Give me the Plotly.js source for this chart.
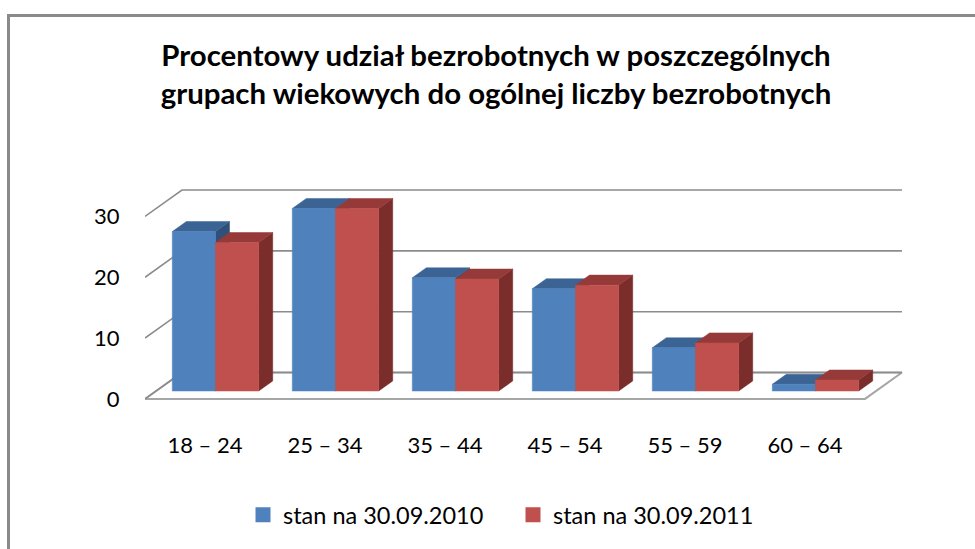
<!DOCTYPE html>
<html>
<head>
<meta charset="utf-8">
<script src="https://cdn.plot.ly/plotly-3.0.1.min.js"></script>
<style>
  html, body { margin:0; padding:0; background:#fff; overflow:hidden; width:975px; height:549px; }
  #chart { width:975px; height:549px; position:absolute; left:0; top:0; }
</style>
</head>
<body>
<div id="chart"></div>
<script>
// ---- data ----
const categories = ["18 – 24", "25 – 34", "35 – 44", "45 – 54", "55 – 59", "60 – 64"];
const series2010 = [26.2, 30.0, 18.6, 16.8, 7.1, 1.1];
const series2011 = [24.4, 30.0, 18.4, 17.4, 7.9, 1.8];
const seriesNames = ["stan na 30.09.2010", "stan na 30.09.2011"];
const yTicks = [0, 10, 20, 30];

// ---- oblique projection helpers (depth d in 0..1) ----
const DX = 0.308, DY = 4.34;
function P(x, v, d) { return [x + d * DX, v + d * DY]; }

const barStart = 0.135, barW = 0.36;
const dFront = 0.30, dBack = 0.68;

function polyTrace(polys, color) {
  const xs = [], ys = [];
  polys.forEach(p => { p.forEach(pt => { xs.push(pt[0]); ys.push(pt[1]); }); xs.push(null); ys.push(null); });
  return { type: 'scatter', mode: 'lines', x: xs, y: ys, fill: 'toself', fillcolor: color,
           line: { width: 0.5, color: color }, hoverinfo: 'skip', showlegend: false };
}

function faces(values, sIdx) {
  const fronts = [], tops = [], sides = [];
  values.forEach((v, i) => {
    const x0 = i + barStart + sIdx * barW, x1 = x0 + barW;
    fronts.push([P(x0, 0, dFront), P(x1, 0, dFront), P(x1, v, dFront), P(x0, v, dFront), P(x0, 0, dFront)]);
    tops.push([P(x0, v, dFront), P(x1, v, dFront), P(x1, v, dBack), P(x0, v, dBack), P(x0, v, dFront)]);
    sides.push([P(x1, 0, dFront), P(x1, 0, dBack), P(x1, v, dBack), P(x1, v, dFront), P(x1, 0, dFront)]);
  });
  return { fronts, tops, sides };
}

const traces = [];
const n = categories.length;

// floor
const floor = [P(0, 0, 0), P(n, 0, 0), P(n, 0, 1), P(0, 0, 1), P(0, 0, 0)];
traces.push({ type: 'scatter', mode: 'lines', x: floor.map(p => p[0]), y: floor.map(p => p[1]),
  fill: 'toself', fillcolor: '#ffffff', line: { color: '#a6a6a6', width: 2 }, hoverinfo: 'skip', showlegend: false });

// gridlines: back wall + left wall
const gx = [], gy = [];
yTicks.forEach(t => {
  const a = P(0, t, 0), b = P(0, t, 1), c = P(n, t, 1);
  gx.push(a[0], b[0], c[0], null); gy.push(a[1], b[1], c[1], null);
});
traces.push({ type: 'scatter', mode: 'lines', x: gx, y: gy, line: { color: '#8c8c8c', width: 1.6 },
  hoverinfo: 'skip', showlegend: false });

const blue = { front: '#4F81BD', top: '#3B6495', side: '#2F5079' };
const red  = { front: '#C0504D', top: '#953A38', side: '#7A2D2B' };
const f0 = faces(series2010, 0), f1 = faces(series2011, 1);
traces.push(polyTrace(f0.sides, blue.side));
traces.push(polyTrace(f0.tops, blue.top));
traces.push(polyTrace(f0.fronts, blue.front));
traces.push(polyTrace(f1.sides, red.side));
traces.push(polyTrace(f1.tops, red.top));
traces.push(polyTrace(f1.fronts, red.front));

// legend entries
traces.push({ type: 'bar', x: [null], y: [null], name: seriesNames[0],
  marker: { color: blue.front, line: { color: blue.front, width: 3 } }, showlegend: true });
traces.push({ type: 'bar', x: [null], y: [null], name: seriesNames[1],
  marker: { color: red.front, line: { color: red.front, width: 3 } }, showlegend: true });

// plot-area geometry (pixels) for the chart-area frame
const L = 145, T = 185.5, W = 975 - 145 - 68, H = 549 - 185.5 - 143.9;
const px2x = px => (px - L) / W, py2y = py => (T + H - py) / H;

const FONT = 'Lato, "Open Sans", sans-serif';
const layout = {
  width: 975, height: 549,
  paper_bgcolor: '#ffffff', plot_bgcolor: 'rgba(0,0,0,0)',
  margin: { l: 145, r: 68, t: 185.5, b: 143.9, pad: 0 },
  font: { family: FONT, color: '#000000', size: 22 },
  title: {
    text: 'Procentowy udział bezrobotnych w poszczególnych<br>grupach wiekowych do ogólnej liczby bezrobotnych',
    font: { family: FONT, size: 29.4, color: '#000000', weight: 'bold' },
    x: 496 / 975, xanchor: 'center', xref: 'container',
    y: 1 - 66 / 549, yanchor: 'middle', yref: 'container'
  },
  xaxis: {
    range: [0, 6.35], showgrid: false, zeroline: false, showline: false,
    tickvals: categories.map((c, i) => i + 0.5), ticktext: categories,
    ticks: 'outside', ticklen: 21, tickcolor: 'rgba(0,0,0,0)',
    tickfont: { family: FONT, size: 22, color: '#000' }, fixedrange: true
  },
  yaxis: {
    range: [-1, 35], showgrid: false, zeroline: false, showline: false,
    tickvals: yTicks, ticktext: yTicks.map(String),
    ticks: 'outside', ticklen: 20, tickcolor: 'rgba(0,0,0,0)',
    tickfont: { family: FONT, size: 22, color: '#000' }, fixedrange: true
  },
  shapes: [{
    type: 'path', xref: 'paper', yref: 'paper', layer: 'above',
    path: `M ${px2x(8.5)},${py2y(560)} L ${px2x(8.5)},${py2y(14.5)} L ${px2x(990)},${py2y(14.5)}`,
    line: { color: '#8a8a8a', width: 3 }
  }],
  showlegend: true,
  legend: {
    orientation: 'h', x: 243 / 975, xanchor: 'left', xref: 'container',
    y: 1 - 515 / 549, yref: 'container', yanchor: 'middle',
    entrywidth: 225, entrywidthmode: 'pixels',
    font: { family: FONT, size: 23.5, color: '#000' }, traceorder: 'normal', itemclick: false
  },
  barmode: 'overlay'
};

Plotly.newPlot('chart', traces, layout, { staticPlot: true, displayModeBar: false });
</script>
</body>
</html>
